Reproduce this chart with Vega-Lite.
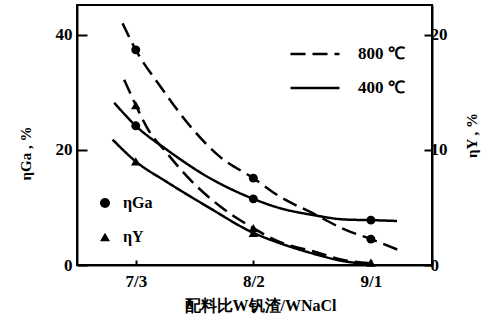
{
  "$schema": "https://vega.github.io/schema/vega-lite/v6.json",
  "width": 355,
  "height": 260,
  "autosize": "none",
  "padding": {"left": 77, "top": 5, "right": 61, "bottom": 60},
  "background": "white",
  "config": {
    "font": "Liberation Serif",
    "view": {"stroke": "black", "strokeWidth": 2},
    "axis": {"labelFontWeight": "bold", "labelColor": "black", "titleColor": "black", "domainColor": "black", "tickColor": "black", "grid": false, "domainWidth": 2, "tickWidth": 2}
  },
  "datasets": {
    "curves": [
      {"kind": "Ga", "temp": "800 ℃", "x": 6.888, "v": 42.0},
      {"kind": "Ga", "temp": "800 ℃", "x": 7.0, "v": 37.4},
      {"kind": "Ga", "temp": "800 ℃", "x": 7.211, "v": 31.0},
      {"kind": "Ga", "temp": "800 ℃", "x": 7.464, "v": 24.1},
      {"kind": "Ga", "temp": "800 ℃", "x": 7.717, "v": 18.8},
      {"kind": "Ga", "temp": "800 ℃", "x": 8.0, "v": 15.1},
      {"kind": "Ga", "temp": "800 ℃", "x": 8.224, "v": 11.9},
      {"kind": "Ga", "temp": "800 ℃", "x": 8.505, "v": 9.0},
      {"kind": "Ga", "temp": "800 ℃", "x": 8.786, "v": 6.1},
      {"kind": "Ga", "temp": "800 ℃", "x": 9.0, "v": 4.5},
      {"kind": "Ga", "temp": "800 ℃", "x": 9.236, "v": 2.6},
      {"kind": "Ga", "temp": "400 ℃", "x": 6.817, "v": 28.2},
      {"kind": "Ga", "temp": "400 ℃", "x": 7.0, "v": 24.2},
      {"kind": "Ga", "temp": "400 ℃", "x": 7.267, "v": 20.0},
      {"kind": "Ga", "temp": "400 ℃", "x": 7.605, "v": 15.4},
      {"kind": "Ga", "temp": "400 ℃", "x": 8.0, "v": 11.5},
      {"kind": "Ga", "temp": "400 ℃", "x": 8.224, "v": 9.9},
      {"kind": "Ga", "temp": "400 ℃", "x": 8.505, "v": 8.7},
      {"kind": "Ga", "temp": "400 ℃", "x": 8.786, "v": 7.9},
      {"kind": "Ga", "temp": "400 ℃", "x": 9.0, "v": 7.8},
      {"kind": "Ga", "temp": "400 ℃", "x": 9.222, "v": 7.65},
      {"kind": "Y", "temp": "800 ℃", "x": 6.901, "v": 16.1},
      {"kind": "Y", "temp": "800 ℃", "x": 7.0, "v": 13.9},
      {"kind": "Y", "temp": "800 ℃", "x": 7.098, "v": 11.9},
      {"kind": "Y", "temp": "800 ℃", "x": 7.267, "v": 9.7},
      {"kind": "Y", "temp": "800 ℃", "x": 7.464, "v": 7.4},
      {"kind": "Y", "temp": "800 ℃", "x": 7.717, "v": 5.1},
      {"kind": "Y", "temp": "800 ℃", "x": 8.0, "v": 3.2},
      {"kind": "Y", "temp": "800 ℃", "x": 8.224, "v": 2.0},
      {"kind": "Y", "temp": "800 ℃", "x": 8.505, "v": 1.2},
      {"kind": "Y", "temp": "800 ℃", "x": 8.786, "v": 0.4},
      {"kind": "Y", "temp": "800 ℃", "x": 9.0, "v": 0.15},
      {"kind": "Y", "temp": "400 ℃", "x": 6.803, "v": 10.9},
      {"kind": "Y", "temp": "400 ℃", "x": 7.0, "v": 9.0},
      {"kind": "Y", "temp": "400 ℃", "x": 7.267, "v": 7.2},
      {"kind": "Y", "temp": "400 ℃", "x": 7.605, "v": 5.1},
      {"kind": "Y", "temp": "400 ℃", "x": 8.0, "v": 2.8},
      {"kind": "Y", "temp": "400 ℃", "x": 8.224, "v": 1.9},
      {"kind": "Y", "temp": "400 ℃", "x": 8.505, "v": 1.0},
      {"kind": "Y", "temp": "400 ℃", "x": 8.786, "v": 0.3},
      {"kind": "Y", "temp": "400 ℃", "x": 9.0, "v": 0.1}
    ],
    "points": [
      {"series": "ηGa", "temp": "800 ℃", "x": 7, "v": 37.4},
      {"series": "ηGa", "temp": "800 ℃", "x": 8, "v": 15.1},
      {"series": "ηGa", "temp": "800 ℃", "x": 9, "v": 4.5},
      {"series": "ηGa", "temp": "400 ℃", "x": 7, "v": 24.2},
      {"series": "ηGa", "temp": "400 ℃", "x": 8, "v": 11.5},
      {"series": "ηGa", "temp": "400 ℃", "x": 9, "v": 7.8},
      {"series": "ηY", "temp": "800 ℃", "x": 7, "v": 13.9},
      {"series": "ηY", "temp": "800 ℃", "x": 8, "v": 3.2},
      {"series": "ηY", "temp": "800 ℃", "x": 9, "v": 0.2},
      {"series": "ηY", "temp": "400 ℃", "x": 7, "v": 9.0},
      {"series": "ηY", "temp": "400 ℃", "x": 8, "v": 2.8}
    ]
  },
  "encoding": {
    "x": {
      "field": "x", "type": "quantitative",
      "scale": {"domain": [6.5, 9.52], "nice": false, "zero": false},
      "axis": {
        "values": [7, 8, 9],
        "labelExpr": "datum.value == 7 ? '7/3' : datum.value == 8 ? '8/2' : '9/1'",
        "tickSize": -5, "labelPadding": 13, "labelFontSize": 17,
        "title": "配料比W钒渣/WNaCl", "titleFontSize": 16, "titleFontWeight": "bold",
        "titleX": 183, "titleY": 40, "titleBaseline": "middle"
      }
    }
  },
  "layer": [
    {
      "encoding": {
        "y": {
          "field": "v", "type": "quantitative",
          "scale": {"domain": [0, 45.2], "nice": false},
          "axis": {
            "orient": "left", "values": [0, 20, 40], "tickSize": -10, "labelPadding": 15, "labelFontSize": 17,
            "title": "ηGa , %", "titleFontSize": 15, "titleFontWeight": "bold", "titleAngle": -90,
            "titleX": -52, "titleY": 148, "titleBaseline": "middle", "titleAlign": "center"
          }
        }
      },
      "layer": [
        {
          "data": {"name": "curves"},
          "transform": [{"filter": "datum.kind == 'Ga'"}],
          "mark": {"type": "line", "interpolate": "monotone", "color": "black", "strokeWidth": 2.5},
          "encoding": {
            "strokeDash": {
              "field": "temp", "type": "nominal",
              "scale": {"domain": ["800 ℃", "400 ℃"], "range": [[15, 7], [1, 0]]},
              "legend": {
                "orient": "none", "legendX": 212, "legendY": 23, "title": null,
                "symbolType": "stroke", "symbolSize": 2400, "symbolStrokeWidth": 2.5, "symbolStrokeColor": "black",
                "labelFontSize": 17, "labelFontWeight": "bold", "labelColor": "black", "labelOffset": 17, "rowPadding": -12
              }
            }
          }
        },
        {
          "data": {"name": "points"},
          "transform": [{"filter": "datum.series == 'ηGa'"}],
          "mark": {"type": "point", "filled": true, "color": "black", "size": 80, "opacity": 1},
          "encoding": {
            "shape": {
              "field": "series", "type": "nominal",
              "scale": {"domain": ["ηGa", "ηY"], "range": ["circle", "triangle-up"]},
              "legend": {
                "orient": "none", "legendX": 20, "legendY": 190, "title": null,
                "symbolFillColor": "black", "symbolStrokeColor": "black", "symbolSize": 100, "symbolOpacity": 1,
                "labelFontSize": 16, "labelFontWeight": "bold", "labelColor": "black", "labelOffset": 10, "rowPadding": 18
              }
            }
          }
        }
      ]
    },
    {
      "encoding": {
        "y": {
          "field": "v", "type": "quantitative",
          "scale": {"domain": [0, 22.6], "nice": false},
          "axis": {
            "orient": "right", "values": [0, 10, 20], "tickSize": -8, "labelPadding": 6, "labelFontSize": 17,
            "title": "ηY , %", "titleFontSize": 15, "titleFontWeight": "bold", "titleAngle": -90,
            "titleX": 39, "titleY": 130, "titleBaseline": "middle", "titleAlign": "center"
          }
        }
      },
      "layer": [
        {
          "data": {"name": "curves"},
          "transform": [{"filter": "datum.kind == 'Y'"}],
          "mark": {"type": "line", "interpolate": "monotone", "color": "black", "strokeWidth": 2.5},
          "encoding": {
            "strokeDash": {"field": "temp", "type": "nominal"}
          }
        },
        {
          "data": {"name": "points"},
          "transform": [{"filter": "datum.series == 'ηY'"}],
          "mark": {"type": "point", "filled": true, "color": "black", "size": 90, "opacity": 1},
          "encoding": {
            "shape": {"field": "series", "type": "nominal"}
          }
        }
      ]
    }
  ],
  "resolve": {"scale": {"y": "independent"}}
}
